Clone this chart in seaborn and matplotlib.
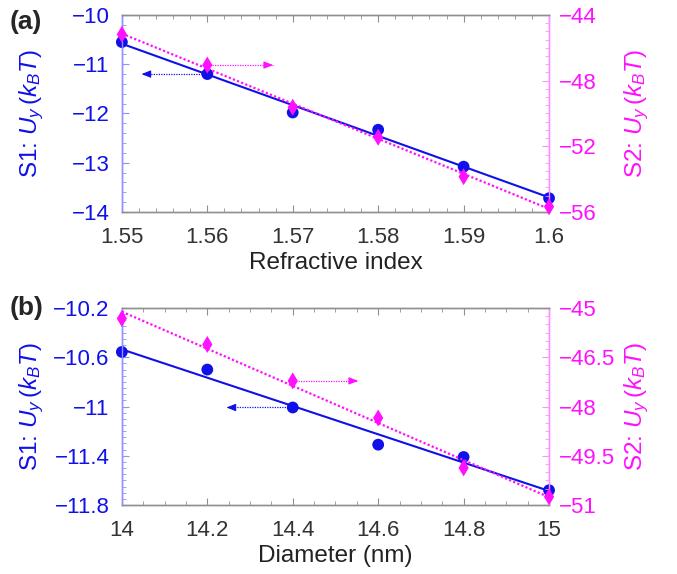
import numpy as np
import pandas as pd
import matplotlib
matplotlib.use("Agg")
import matplotlib.pyplot as plt
from matplotlib.ticker import MultipleLocator
import seaborn as sns

# ---- data ----
ri = [1.55, 1.56, 1.57, 1.58, 1.59, 1.60]
s1_ri = [-10.55, -11.20, -11.98, -12.33, -13.08, -13.72]
s2_ri = [-45.18, -47.05, -49.62, -51.45, -53.85, -55.68]

diam = [14.0, 14.2, 14.4, 14.6, 14.8, 15.0]
s1_d = [-10.557, -10.70, -11.008, -11.31, -11.41, -11.68]
s2_d = [-45.32, -46.11, -47.22, -48.35, -49.87, -50.75]

xticks_a = [1.55, 1.56, 1.57, 1.58, 1.59, 1.60]
xticklabels_a = ["1.55", "1.56", "1.57", "1.58", "1.59", "1.6"]
yticks_a1 = [-10, -11, -12, -13, -14]
yticks_a2 = [-44, -48, -52, -56]
xticks_b = [14, 14.2, 14.4, 14.6, 14.8, 15]
xticklabels_b = ["14", "14.2", "14.4", "14.6", "14.8", "15"]
yticks_b1 = [-10.2, -10.6, -11, -11.4, -11.8]
yticklabels_b1 = ["\u221210.2", "\u221210.6", "\u221211", "\u221211.4", "\u221211.8"]
yticks_b2 = [-45, -46.5, -48, -49.5, -51]
yticklabels_b2 = ["\u221245", "\u221246.5", "\u221248", "\u221249.5", "\u221251"]

sns.set_style("ticks")
plt.rcParams["font.family"] = ["Liberation Sans", "DejaVu Sans"]
plt.rcParams["mathtext.fontset"] = "custom"
plt.rcParams["mathtext.rm"] = "Liberation Sans"
plt.rcParams["mathtext.it"] = "Liberation Sans:italic"
plt.rcParams["axes.unicode_minus"] = True

BLUE = "#1010E8"
MAG = "#FF10FF"
LBLUE = "#9090FF"
LMAG = "#FF90FF"
GRAY = "#909090"
FS = 16
LFS = 17.5

fig = plt.figure(figsize=(6.77, 5.74), dpi=100)
axA = fig.add_axes([0.180, 0.6307, 0.631, 0.3432])
axB = fig.add_axes([0.180, 0.1202, 0.631, 0.3432])


def style(ax, ax2, xt, xtl, xmin, y1t, y1tl, y1min, y2t, y2tl, y2min, xlabel):
    for a in (ax, ax2):
        a.spines["top"].set_color(GRAY)
        a.spines["bottom"].set_color(GRAY)
        a.spines["left"].set_color(LBLUE)
        a.spines["right"].set_color(LMAG)
        for s in a.spines.values():
            s.set_visible(True)
            s.set_linewidth(1.0)
    ax.set_xticks(xt)
    ax.set_xticklabels(xtl)
    ax.xaxis.set_minor_locator(MultipleLocator(xmin))
    ax.set_yticks(y1t)
    if y1tl is not None:
        ax.set_yticklabels(y1tl)
    ax.yaxis.set_minor_locator(MultipleLocator(y1min))
    ax2.set_yticks(y2t)
    if y2tl is not None:
        ax2.set_yticklabels(y2tl)
    ax2.yaxis.set_minor_locator(MultipleLocator(y2min))
    ax.tick_params(axis="x", which="both", direction="in", top=True, bottom=True,
                   colors=GRAY, labelcolor="#333333", labelsize=FS, pad=11)
    ax.tick_params(axis="x", which="major", length=5)
    ax.tick_params(axis="x", which="minor", length=3)
    ax.tick_params(axis="y", which="both", direction="in", left=True, right=False,
                   colors=LBLUE, labelcolor=BLUE, labelsize=FS, pad=9)
    ax.tick_params(axis="y", which="major", length=5)
    ax.tick_params(axis="y", which="minor", length=3)
    ax2.tick_params(axis="y", which="both", direction="in", right=True, left=False,
                    colors=LMAG, labelcolor=MAG, labelsize=FS, pad=7)
    ax2.tick_params(axis="y", which="major", length=5)
    ax2.tick_params(axis="y", which="minor", length=3)
    ax.set_xlabel(xlabel, fontsize=LFS, color="#222222", labelpad=3)
    ax.set_ylabel(r"S1: $U_y\,(k_BT)$", fontsize=LFS, color=BLUE)
    ax2.set_ylabel(r"S2: $U_y\,(k_BT)$", fontsize=LFS, color=MAG)
    ax.yaxis.set_label_coords(-0.178, 0.5)
    ax2.yaxis.set_label_coords(1.172, 0.5)


def draw(ax, x, y1, y2, xlim, y1lim, y2lim):
    ax2 = ax.twinx()
    df1 = pd.DataFrame({"x": x, "y": y1})
    df2 = pd.DataFrame({"x": x, "y": y2})
    sns.regplot(data=df1, x="x", y="y", ax=ax, ci=None, scatter=False, truncate=True,
                line_kws=dict(color=BLUE, lw=1.5, zorder=3))
    sns.regplot(data=df2, x="x", y="y", ax=ax2, ci=None, scatter=False, truncate=True,
                line_kws=dict(color=MAG, lw=1.6, ls=(0, (1, 1)), zorder=3))
    sns.scatterplot(data=df1, x="x", y="y", ax=ax, color=BLUE, marker="o", s=72,
                    edgecolor="none", zorder=4, clip_on=False)
    sns.scatterplot(data=df2, x="x", y="y", ax=ax2, color=MAG, marker="d", s=75,
                    edgecolor="none", zorder=4, clip_on=False)
    ax.set_xlim(*xlim)
    ax.set_ylim(*y1lim)
    ax2.set_ylim(*y2lim)
    ax2.set_xlim(*xlim)
    ax.set_xlabel("")
    ax.set_ylabel("")
    ax2.set_ylabel("")
    return ax2


def arrow(ax, x0, x1, y, color):
    ax.plot([x0, x1], [y, y], ls=(0, (1, 1)), lw=0.9, color=color, zorder=2)
    d = (x1 - x0) * 0.12
    ax.annotate("", xy=(x1, y), xytext=(x1 - d, y),
                arrowprops=dict(arrowstyle="-|>,head_length=0.55,head_width=0.22",
                                color=color, lw=0.8, shrinkA=0, shrinkB=0))


# ---- panel (a) ----
axA2 = draw(axA, ri, s1_ri, s2_ri, (1.55, 1.60), (-14, -10), (-56, -44))
style(axA, axA2, xticks_a, xticklabels_a, 0.002, yticks_a1, None, 0.2,
      yticks_a2, None, 0.5, "Refractive index")
arrow(axA, 1.56, 1.5523, s1_ri[1], BLUE)
arrow(axA2, 1.56, 1.5677, s2_ri[1], MAG)

# ---- panel (b) ----
axB2 = draw(axB, diam, s1_d, s2_d, (14, 15), (-11.8, -10.2), (-51, -45))
style(axB, axB2, xticks_b, xticklabels_b, 0.05, yticks_b1, yticklabels_b1, 0.05,
      yticks_b2, yticklabels_b2, 0.25, "Diameter (nm)")
arrow(axB, 14.4, 14.245, s1_d[2], BLUE)
arrow(axB2, 14.4, 14.553, s2_d[2], MAG)

fig.text(0.014, 0.982, "(a)", fontsize=19, fontweight="bold", va="top", ha="left")
fig.text(0.014, 0.484, "(b)", fontsize=19, fontweight="bold", va="top", ha="left")

fig.savefig("out.png", dpi=100)
